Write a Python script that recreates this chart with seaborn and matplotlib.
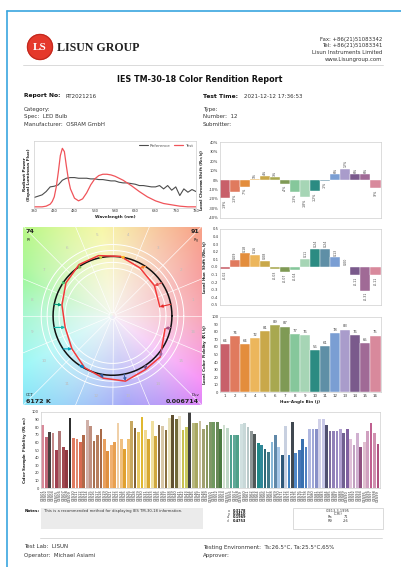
import numpy as np
import pandas as pd
import matplotlib
matplotlib.use("Agg")
import matplotlib.pyplot as plt
import seaborn as sns
from matplotlib.colors import hsv_to_rgb
from matplotlib.patches import Circle, Rectangle

sns.set_theme(style="white")
plt.rcParams['font.family'] = ['DejaVu Sans']
plt.rcParams['mathtext.default'] = 'regular'

# ---------------- data ----------------
ref_wl = [380, 390, 400, 410, 420, 430, 440, 450, 460, 470, 480, 490, 500, 510, 520,
          530, 540, 550, 560, 570, 580, 590, 600, 610, 620, 630, 640, 650, 660, 670,
          680, 690, 700, 710, 720, 730, 740, 750, 760, 770, 780]
ref_spd = [0.15, 0.17, 0.19, 0.24, 0.31, 0.32, 0.34, 0.41, 0.44, 0.45, 0.45, 0.44, 0.44, 0.44, 0.43,
           0.43, 0.42, 0.42, 0.41, 0.40, 0.40, 0.38, 0.37, 0.37, 0.36, 0.35, 0.33, 0.33, 0.32, 0.31,
           0.31, 0.33, 0.28, 0.33, 0.26, 0.31, 0.18, 0.28, 0.23, 0.27, 0.24]
test_wl = [380, 390, 400, 410, 420, 425, 430, 435, 440, 445, 450, 455, 460, 465, 470, 480,
           490, 500, 510, 520, 530, 540, 550, 560, 570, 580, 590, 600, 620, 640, 660, 680,
           700, 720, 740, 760, 780]
test_spd = [0.01, 0.01, 0.01, 0.02, 0.05, 0.09, 0.16, 0.31, 0.53, 0.78, 0.89, 0.84, 0.62, 0.42, 0.28, 0.14,
            0.10, 0.13, 0.22, 0.34, 0.43, 0.48, 0.50, 0.50, 0.49, 0.47, 0.44, 0.41, 0.33, 0.24, 0.16, 0.10,
            0.06, 0.04, 0.02, 0.01, 0.01]
spd_ticks = [380, 430, 480, 530, 580, 630, 680, 730, 780]

bin_labels = [str(i) for i in range(1, 17)]
rcs = [-19, -13, -7, 1, 4, 3, -4, -13, -18, -12, -1, 6, 12, 6, 6, -9]           # %
rhs = [-0.02, 0.09, 0.18, 0.16, 0.08, -0.03, -0.07, -0.04, 0.11, 0.24, 0.24, 0.13,
       0.00, -0.11, -0.31, -0.11]
rf_h = [64, 74, 64, 72, 81, 89, 87, 77, 76, 56, 61, 78, 83, 76, 65, 75]
bin_colors = ['#c8606a', '#e07a5e', '#e38d3c', '#ecb65c', '#c9a84a', '#a8a850', '#7f9a55', '#86c79b',
              '#a6d5b5', '#2b8b82', '#5f8fa6', '#7a9ed3', '#a99ccb', '#7a5a8c', '#a06a96', '#d8899c']
arrow_colors = ['#e62828', '#e74b4b', '#fb812e', '#ffb529', '#cbca46', '#7eb94c', '#41c06d', '#009c7c',
                '#16bcb0', '#00a4bf', '#0085c3', '#3b62aa', '#4568ae', '#6a4e85', '#9d69a1', '#a74f81']

rf, rg, cct, duv = 74, 91, "6172 K", "0.006714"

ces_names = [f"CES{i:02d}" for i in range(1, 100)]
ces_rf = [83, 67, 73, 72, 50, 75, 54, 50, 92, 66, 64, 60, 69, 89, 81, 62, 69, 78, 64, 49,
          56, 60, 85, 65, 51, 64, 88, 79, 74, 93, 76, 65, 88, 68, 82, 81, 76, 92, 96, 91,
          95, 76, 80, 99, 85, 85, 88, 78, 82, 86, 86, 86, 77, 82, 79, 70, 70, 70, 84, 85,
          80, 75, 71, 59, 57, 51, 48, 61, 69, 54, 43, 81, 44, 86, 46, 50, 64, 54, 78, 77,
          78, 90, 90, 83, 75, 75, 75, 78, 72, 78, 65, 57, 72, 54, 61, 75, 85, 72, 58]
ces_colors = ['#d98a9a', '#c06878', '#4a4040', '#c48a8a', '#a04050', '#b07878', '#a04850', '#903840',
              '#303030', '#e07a60', '#e08a70', '#d86a50', '#b06848', '#d0b0a8', '#c09080', '#a87050',
              '#b88060', '#a86a48', '#e8a060', '#e09040', '#f0b070', '#e8a050', '#f0d0a8', '#f0c080',
              '#e0a030', '#f0c070', '#c8a860', '#806038', '#e8c860', '#e0b830', '#f0d890', '#d8a830',
              '#f0e0a0', '#d0a840', '#7a6040', '#d8c8a8', '#8a7040', '#e8e0b8', '#605030', '#706838',
              '#e8e0c8', '#c8c050', '#c8c860', '#404040', '#b8b880', '#a8a860', '#c8c0a0', '#a0a070',
              '#8a9860', '#809868', '#709860', '#688858', '#4a7a40', '#d0e0d0', '#c0d8c8', '#50a090',
              '#60a898', '#50a088', '#d0e0e0', '#c8d8d8', '#b8c8c8', '#909898', '#505858', '#208888',
              '#308898', '#306878', '#407888', '#88b8d8', '#6088a8', '#a8c8e8', '#305878', '#c8d0e0',
              '#4080c0', '#404850', '#5088c8', '#4878b8', '#3870b0', '#5080c0', '#b0b8e0', '#a0a8d8',
              '#8890c8', '#d0d0e8', '#c8c8e8', '#505070', '#8070a0', '#9080b8', '#9888c0', '#b0a0d0',
              '#706090', '#8060a0', '#e0c0d8', '#c0a0c0', '#d0b0d0', '#905080', '#e0c0d0', '#d0a0c0',
              '#c06090', '#d090b0', '#b05080']

chroma = {"x": "0.3178", "y": "0.3410", "u'": "0.1969", "v'": "0.4753"}
cri = {"Ra": "71", "R9": "-26"}

# ---------------- page ----------------
W, H = 401, 567
fig = plt.figure(figsize=(W / 100, H / 100), dpi=100)


def box(l, t, r, b):
    return [l / W, 1 - b / H, (r - l) / W, (b - t) / H]


page = fig.add_axes([0, 0, 1, 1], zorder=0)
page.set_xlim(0, W)
page.set_ylim(H, 0)
page.axis('off')

TXT = '#333333'


def put(x, y, s, size=4.2, weight='normal', ha='left', **kw):
    page.text(x, y, s, fontsize=size, fontweight=weight, ha=ha, va='center', color=kw.pop('color', TXT), **kw)


page.plot([7, 7], [11, H], color='#3aa6df', lw=1.2)
page.plot([7, W], [11, 11], color='#3aa6df', lw=1.2)

# logo
page.add_patch(Circle((40, 47), 12.5, color='#e5392b'))
page.add_patch(Circle((40, 47), 12.5, fill=False, ec='#c02a20', lw=0.8))
page.text(40, 47.5, "LS", fontsize=8, fontweight='bold', family='Liberation Serif', color='white',
          ha='center', va='center')
page.text(57, 48, "LISUN GROUP", fontsize=8.6, fontweight='bold', family='Liberation Serif',
          color='#222222', ha='left', va='center')
for y, s in zip([39, 46, 53, 60], ["Fax: +86(21)51083342", "Tel: +86(21)51083341",
                                    "Lisun Instruments Limited", "www.Lisungroup.com"]):
    put(382, y, s, size=3.9, ha='right')
page.plot([23, 383], [65, 65], color='#d4d4d4', lw=0.6)

put(200, 80, "IES TM-30-18 Color Rendition Report", size=5.8, weight='bold', ha='center', color='#111111')
put(24, 96, "Report No:", size=4.3, weight='bold', color='#111111')
put(66, 96, "RT2021216", size=4.0)
put(203, 96, "Test Time:", size=4.3, weight='bold', color='#111111')
put(244, 96, "2021-12-12 17:36:53", size=4.0)
for y, s in zip([109, 116.5, 124], ["Category:", "Spec:  LED Bulb", "Manufacturer:  OSRAM GmbH"]):
    put(24, y, s, size=4.0)
for y, s in zip([109, 116.5, 124], ["Type:", "Number:  12", "Submitter:"]):
    put(203, y, s, size=4.0)


def style_axes(ax, size=2.7):
    for sp in ax.spines.values():
        sp.set_color('#cfcfcf')
        sp.set_linewidth(0.5)
    ax.tick_params(length=0, pad=1.2, labelsize=size, colors=TXT)
    ax.set_facecolor('white')


LBL = dict(fontsize=3.0, fontweight='bold', color='#222222')

# ---------------- spectral power distribution ----------------
ax = fig.add_axes(box(34, 141, 196, 207.5))
sns.lineplot(x=ref_wl, y=ref_spd, color='#4d4d4d', lw=0.8, label='Reference', ax=ax)
sns.lineplot(x=test_wl, y=test_spd, color='#f0545a', lw=0.9, label='Test', ax=ax)
ax.set_xlim(380, 780)
ax.set_ylim(0, 1.0)
ax.set_xticks(spd_ticks)
ax.set_yticks([])
style_axes(ax, size=2.6)
ax.set_xlabel("Wavelength (nm)", labelpad=1.5, **LBL)
ax.set_ylabel("Radiant Power\n(Equal Luminous Flux)", labelpad=2, **LBL)
ax.legend(loc='upper right', ncol=2, frameon=False, fontsize=3.0, handlelength=2.2,
          borderaxespad=0.3, columnspacing=1.0, handletextpad=0.4)
for t in ax.get_legend().get_texts():
    t.set_color('#555555')

df_bins = pd.DataFrame({'bin': bin_labels, 'rcs': rcs, 'rhs': rhs, 'rf': rf_h})
BAR = dict(hue='bin', palette=bin_colors, width=1, saturation=1, dodge=False, legend=False,
           edgecolor='white', linewidth=0.3)

# ---------------- local chroma shift ----------------
ax = fig.add_axes(box(220, 142.3, 380.5, 217.7))
sns.barplot(data=df_bins, x='bin', y='rcs', ax=ax, **BAR)
ax.set_xlim(-0.5, 15.5)
ax.set_ylim(-40, 40)
ax.set_yticks(range(-40, 41, 10))
ax.set_yticklabels([f"{v}%" for v in range(-40, 41, 10)])
ax.set_xticks([])
ax.set_xlabel('')
style_axes(ax)
ax.set_ylabel("Local Chroma Shift ($R_{cs,hj}$)", labelpad=1, **LBL)
for i, v in enumerate(rcs):
    ax.text(i, v + (1.5 if v >= 0 else -1.5), f"{v:.0f}%", rotation=90, ha='center',
            va='bottom' if v >= 0 else 'top', fontsize=2.3, color='#444444')

# ---------------- local hue shift ----------------
ax = fig.add_axes(box(220, 229, 380.5, 305))
sns.barplot(data=df_bins, x='bin', y='rhs', ax=ax, **BAR)
ax.set_xlim(-0.5, 15.5)
ax.set_ylim(-0.5, 0.5)
ticks = np.round(np.arange(-0.5, 0.51, 0.1), 1)
ax.set_yticks(ticks)
ax.set_yticklabels([f"{t:.1f}" for t in ticks])
ax.set_xticks([])
ax.set_xlabel('')
style_axes(ax)
ax.set_ylabel("Local Hue Shift ($R_{hs,hj}$)", labelpad=1, **LBL)
for i, v in enumerate(rhs):
    ax.text(i, v + (0.02 if v >= 0 else -0.02), f"{v:.2f}", rotation=90, ha='center',
            va='bottom' if v >= 0 else 'top', fontsize=2.3, color='#444444')

# ---------------- local color fidelity ----------------
ax = fig.add_axes(box(220, 316.7, 380.5, 392.3))
sns.barplot(data=df_bins, x='bin', y='rf', ax=ax, **BAR)
ax.set_xlim(-0.5, 15.5)
ax.set_ylim(0, 100)
ax.set_yticks(range(0, 101, 10))
style_axes(ax)
ax.tick_params(axis='x', labelsize=2.9)
ax.set_ylabel("Local Color Fidelity ($R_{f,hj}$)", labelpad=1, **LBL)
ax.set_xlabel("Hue-Angle Bin (j)", labelpad=1.5, **LBL)
for i, v in enumerate(rf_h):
    ax.text(i, v + 1.5, f"{v}", ha='center', va='bottom', fontsize=2.7, color='#444444')

# ---------------- color vector graphic ----------------
axc = fig.add_axes(box(22.7, 226.7, 202.3, 405))
g = np.linspace(-1.5, 1.5, 400)
X, Y = np.meshgrid(g, g)
ang = np.degrees(np.arctan2(Y, X)) % 360
hue = np.interp(ang, [0, 30, 60, 90, 120, 150, 180, 210, 240, 270, 300, 330, 360],
                [0.97, 1.01, 1.07, 1.15, 1.22, 1.30, 1.42, 1.50, 1.56, 1.64, 1.73, 1.86, 1.97]) % 1
sat = 0.04 + 0.40 * np.clip(np.hypot(X, Y) / 2.0, 0, 1) ** 1.2
rgb = hsv_to_rgb(np.dstack([hue, sat, np.full_like(sat, 0.97)]))
axc.imshow(rgb, extent=[-1.5, 1.5, -1.5, 1.5], origin='lower', interpolation='bilinear', zorder=0)

edges = np.arange(16) * 2 * np.pi / 16
for a in edges:
    axc.plot([0.06 * np.cos(a), 2.2 * np.cos(a)], [0.06 * np.sin(a), 2.2 * np.sin(a)],
             color='white', lw=0.5, alpha=0.9, zorder=1)
circ_t = np.linspace(0, 2 * np.pi, 361)
for r in [0.8, 0.9, 1.1, 1.2]:
    axc.plot(r * np.cos(circ_t), r * np.sin(circ_t), color='white', lw=0.7, zorder=1)
axc.plot(0.06 * np.cos(circ_t), 0.06 * np.sin(circ_t), color='white', lw=0.5, zorder=1)

centers = (np.arange(16) + 0.5) * 2 * np.pi / 16
for j, a in enumerate(centers):
    axc.text(1.38 * np.cos(a), 1.38 * np.sin(a), bin_labels[j], fontsize=3, color='#bdbdbd',
             ha='center', va='center', zorder=1)

# reference circle
axc.plot(np.cos(circ_t), np.sin(circ_t), color='#111111', lw=1.1, zorder=3)

# test polygon from chroma and hue shifts
tr = 1 + np.array(rcs) / 100.0
ta = centers + np.array(rhs) * 2 * np.pi / 16
tx = np.append(tr * np.cos(ta), tr[0] * np.cos(ta[0]))
ty = np.append(tr * np.sin(ta), tr[0] * np.sin(ta[0]))
sns.lineplot(x=tx, y=ty, sort=False, color='#f23a3a', lw=1.1, ax=axc, zorder=4)
for j in range(16):
    axc.annotate("", xy=(tx[j], ty[j]), xytext=(np.cos(centers[j]), np.sin(centers[j])),
                 arrowprops=dict(arrowstyle='-|>', color=arrow_colors[j], lw=0.8, mutation_scale=4,
                                 shrinkA=0, shrinkB=0), zorder=5)

axc.set_xlim(-1.5, 1.5)
axc.set_ylim(-1.5, 1.5)
axc.set_xticks([])
axc.set_yticks([])
axc.set_xlabel('')
axc.set_ylabel('')
for sp in axc.spines.values():
    sp.set_visible(False)

ck = dict(transform=axc.transAxes, color='#222222')
axc.text(0.015, 0.988, f"{rf}", fontsize=4.6, fontweight='bold', ha='left', va='top', **ck)
axc.text(0.015, 0.945, "$R_f$", fontsize=2.8, ha='left', va='top', **ck)
axc.text(0.985, 0.988, f"{rg}", fontsize=4.6, fontweight='bold', ha='right', va='top', **ck)
axc.text(0.985, 0.945, "$R_g$", fontsize=2.8, ha='right', va='top', **ck)
axc.text(0.015, 0.045, "CCT", fontsize=2.8, ha='left', va='bottom', **ck)
axc.text(0.015, 0.008, cct, fontsize=4.6, fontweight='bold', ha='left', va='bottom', **ck)
axc.text(0.985, 0.045, "Duv", fontsize=2.8, ha='right', va='bottom', **ck)
axc.text(0.985, 0.008, duv, fontsize=4.6, fontweight='bold', ha='right', va='bottom', **ck)

# ---------------- color sample fidelity ----------------
ax = fig.add_axes(box(40.7, 411.7, 380, 488.3))
df_ces = pd.DataFrame({'ces': ces_names, 'rf': ces_rf})
sns.barplot(data=df_ces, x='ces', y='rf', hue='ces', palette=ces_colors, width=0.8, saturation=1,
            dodge=False, legend=False, linewidth=0, ax=ax)
ax.set_xlim(-0.6, 98.6)
ax.set_ylim(0, 100)
ax.set_yticks(range(0, 101, 10))
style_axes(ax, size=2.6)
ax.tick_params(axis='x', labelrotation=90, labelsize=2.6, pad=1)
ax.set_xlabel('')
ax.set_ylabel("Color Sample Fidelity ($R_{f,ces}$)", labelpad=2, **LBL)

# ---------------- notes and colorimetry ----------------
put(25, 511, "Notes:", size=3.0, weight='bold', color='#111111')
page.add_patch(Rectangle((41, 508), 162, 21, facecolor='#ebebeb', edgecolor='none'))
put(44, 511, "This is a recommended method for displaying IES TM-30-18 information.", size=2.7)

for k, (lab, val) in enumerate(chroma.items()):
    yy = 510.7 + 3.3 * k
    put(230, yy, lab, size=2.5, ha='right')
    put(233, yy, val, size=2.5, weight='bold', color='#111111')

page.add_patch(Rectangle((293, 508), 90, 21, facecolor='white', edgecolor='#cccccc', lw=0.5))
put(338, 510.7, "CIE13.3-1995", size=2.5, ha='center')
put(338, 514.0, "(CRI)", size=2.5, ha='center')
for k, (lab, val) in enumerate(cri.items()):
    yy = 517.3 + 3.3 * k
    put(330, yy, lab, size=2.5, ha='center')
    put(346, yy, val, size=2.5, ha='center')

page.plot([40, 382], [538, 538], color='#d4d4d4', lw=0.6)
put(24, 547, "Test Lab:  LISUN", size=4.0)
put(24, 555.5, "Operator:  Michael Asiami", size=4.0)
put(203, 547, "Testing Environment:  Ts:26.5°C, Ta:25.5°C,65%", size=4.0)
put(203, 555.5, "Approver:", size=4.0)

fig.savefig("out.png", dpi=100, facecolor='white')
